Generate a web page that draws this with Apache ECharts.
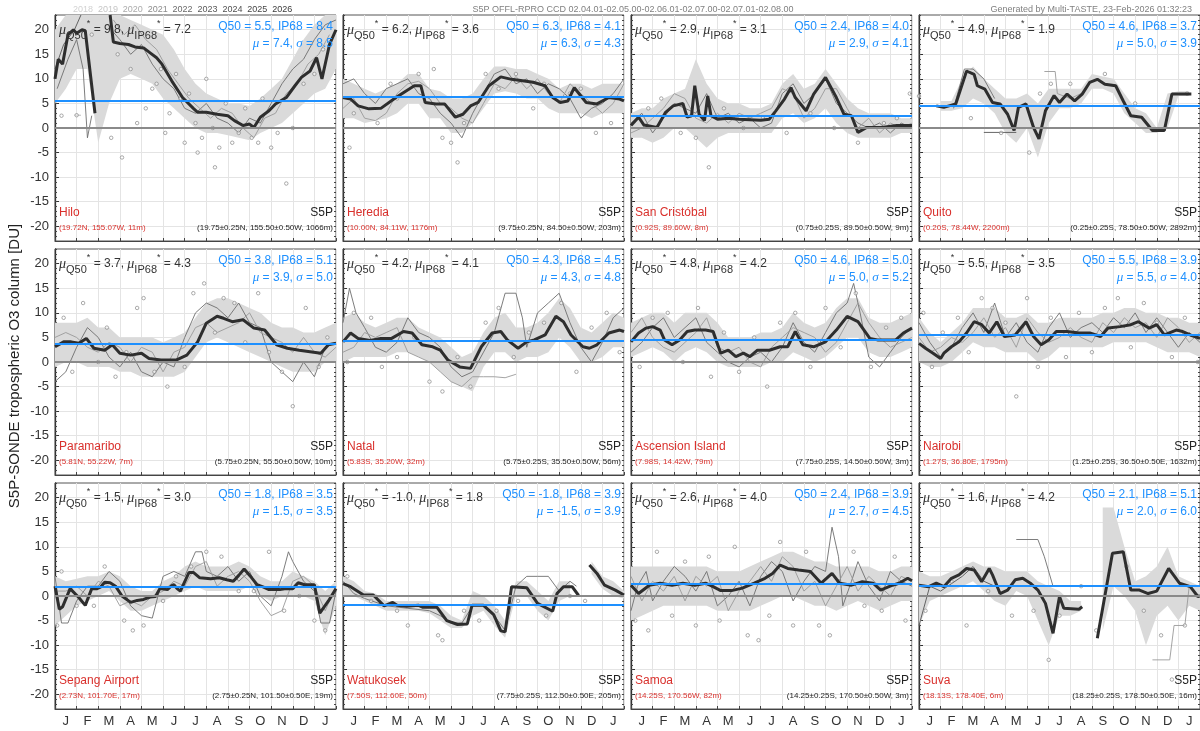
<!DOCTYPE html>
<html>
<head>
<meta charset="utf-8">
<script src="https://cdn.jsdelivr.net/npm/echarts@6/dist/echarts.min.js"></script>
<style>
html,body{margin:0;padding:0;background:#fff}
#c{width:1200px;height:731px}
</style>
</head>
<body>
<div id="c"></div>
<script>
// ---- station metadata ----
const stations = ['Hilo','Heredia','San Cristóbal','Quito','Paramaribo','Natal','Ascension Island','Nairobi','Sepang Airport','Watukosek','Samoa','Suva'];
const sondeCoords = ['(19.72N, 155.07W, 11m)','(10.00N, 84.11W, 1176m)','(0.92S, 89.60W, 8m)','(0.20S, 78.44W, 2200m)','(5.81N, 55.22W, 7m)','(5.83S, 35.20W, 32m)','(7.98S, 14.42W, 79m)','(1.27S, 36.80E, 1795m)','(2.73N, 101.70E, 17m)','(7.50S, 112.60E, 50m)','(14.25S, 170.56W, 82m)','(18.13S, 178.40E, 6m)'];
const pixelCoords = ['(19.75±0.25N, 155.50±0.50W, 1066m)','(9.75±0.25N, 84.50±0.50W, 203m)','(0.75±0.25S, 89.50±0.50W, 9m)','(0.25±0.25S, 78.50±0.50W, 2892m)','(5.75±0.25N, 55.50±0.50W, 10m)','(5.75±0.25S, 35.50±0.50W, 56m)','(7.75±0.25S, 14.50±0.50W, 3m)','(1.25±0.25S, 36.50±0.50E, 1632m)','(2.75±0.25N, 101.50±0.50E, 19m)','(7.75±0.25S, 112.50±0.50E, 205m)','(14.25±0.25S, 170.50±0.50W, 3m)','(18.25±0.25S, 178.50±0.50E, 16m)'];

// ---- summary statistics per station ----
const muQ50 = ['9.8','6.2','2.9','4.9','3.7','4.2','4.8','5.5','1.5','-1.0','2.6','1.6'];
const muIP68 = ['7.2','3.6','3.1','1.9','4.3','4.1','4.2','3.5','3.0','1.8','4.0','4.2'];
const q50 = [5.5,6.3,2.4,4.6,3.8,4.3,4.6,5.5,1.8,-1.8,2.4,2.1];
const ip68 = ['8.4','4.1','4.0','3.7','5.1','4.5','5.0','3.9','3.5','3.9','3.9','5.1'];
const meanVal = ['7.4','6.3','2.9','5.0','3.9','4.3','5.0','5.5','1.5','-1.5','2.7','2.0'];
const sigmaVal = ['8.5','4.3','4.1','3.9','5.0','4.8','5.2','4.0','3.5','3.9','4.5','6.0'];

// ---- axis labels ----
const monthLetters = ['J','F','M','A','M','J','J','A','S','O','N','D','J'];
const monthLabelPos = [0.5,1.5,2.5,3.5,4.5,5.5,6.5,7.5,8.5,9.5,10.5,11.5,12.5];
const yTickLabels = [-20,-15,-10,-5,0,5,10,15,20];
const yMinorTicks = [-23,-22,-21,-20,-19,-18,-17,-16,-15,-14,-13,-12,-11,-10,-9,-8,-7,-6,-5,-4,-3,-2,-1,0,1,2,3,4,5,6,7,8,9,10,11,12,13,14,15,16,17,18,19,20,21,22,23];
const years = ['2018','2019','2020','2021','2022','2023','2024','2025','2026'];
const yearColors = ['#d2d2d2','#c6c6c6','#ababab','#8c8c8c','#6a6a6a','#5a5a5a','#505050','#454545','#3a3a3a'];

// ---- months at which the spread band is given ----
const bandMonths = [0,0.5,1,1.5,2,2.5,3,3.5,4,4.5,5,5.5,6,6.5,7,7.5,8,8.5,9,9.5,10,10.5,11,11.5,12,12.5,13];

// ---- median (thick) curves: [month, DU] ----
const medHilo = [[0,10],[0.15,14],[0.35,13],[0.6,19],[0.85,20],[1.0,19.3],[1.25,20],[1.4,19.8],[1.85,3],[2.2,null],[2.55,23],[2.7,17.5],[3.0,17.2],[3.4,17],[3.7,16.5],[4.1,16.3],[4.4,15.3],[4.7,14.3],[4.95,13],[5.4,9.6],[5.9,6.2],[6.4,4],[6.6,3.2],[7.0,3.2],[7.5,2.8],[8.0,2.5],[8.3,1.5],[8.7,0.5],[9.0,0.8],[9.2,0.1],[9.5,2.2],[9.9,3.5],[10.2,4.9],[10.7,6.2],[11.1,8.6],[11.4,10.3],[11.8,11.6],[12.1,14.3],[12.35,10],[12.7,17],[13,20]];
const medHeredia = [[0,6.2],[0.35,5.9],[0.7,4.5],[1.2,3.9],[1.75,4],[2.45,6.2],[2.9,7.5],[3.3,8.6],[3.6,8.6],[3.8,5.2],[4.3,4.9],[4.7,4.9],[5.2,2.2],[5.55,2.8],[5.9,4.5],[6.25,5.2],[6.75,8.6],[7.3,10.4],[7.8,9.9],[8.3,9.6],[8.8,9.3],[9.35,8.6],[9.7,6.2],[10.05,5.2],[10.4,5.5],[10.7,8.2],[11.25,5.2],[11.75,4.9],[12.3,6.2],[12.8,5.9],[13,5.5]];
const medSanCristobal = [[0,0.5],[0.35,2.2],[0.6,0.6],[1.2,0.1],[1.6,3.2],[1.95,4.5],[2.4,5],[2.6,2.2],[2.8,2.5],[2.95,8.6],[3.15,2.8],[3.4,1.5],[3.55,6.5],[3.7,2.5],[4.0,1.8],[4.5,2.0],[5.0,1.8],[5.5,1.7],[6.0,1.6],[6.4,1.8],[6.7,3.5],[7.1,5.9],[7.4,8.2],[7.6,6.2],[8.1,3.5],[8.45,6.9],[9.0,10.3],[9.5,6.2],[9.85,2.8],[10.2,2.5],[10.5,-0.9],[10.9,0.1],[11.6,0.1],[12.3,0.5],[13,0.5]];
const medQuito = [[0.8,4.5],[1.15,4.2],[1.7,4.9],[2.2,11.6],[2.55,10.9],[2.7,8.6],[3.05,7.9],[3.4,5.2],[3.75,4.9],[4.1,2.8],[4.4,-0.5],[4.6,4.2],[4.95,4.9],[5.3,0.1],[5.55,-2.2],[5.85,3.5],[6.25,6.6],[6.5,5.2],[6.85,6.9],[7.2,5.5],[7.55,6.9],[7.9,9.3],[8.25,9.9],[8.6,8.9],[9.1,8.6],[9.45,5.5],[9.8,2.5],[10.3,2.2],[10.8,-0.5],[11.35,-0.5],[11.7,6.9],[12.6,6.9]];
const medParamaribo = [[0,3.1],[0.4,4.1],[0.75,4.1],[1.1,3.8],[1.45,4.8],[1.8,2.8],[2.3,2.4],[2.65,3.5],[3.0,1.8],[3.5,1.4],[4.0,1.8],[4.35,0.7],[4.9,0.4],[5.6,0.4],[6.1,1.4],[6.6,4.1],[7.0,7.9],[7.5,9.3],[7.8,8.9],[8.2,8.2],[8.7,8.6],[9.2,6.9],[9.7,6.5],[10.25,3.5],[10.75,2.8],[11.3,2.4],[11.8,2.1],[12.3,1.8],[12.65,3.5],[13,3.8]];
const medNatal = [[0,4.1],[0.35,5.9],[0.7,4.8],[1.25,4.4],[1.75,4.8],[2.25,4.8],[2.8,6.2],[3.2,5.9],[3.65,3.5],[4.15,3.1],[4.5,2.4],[4.85,0.4],[5.4,-1.0],[5.9,-1.3],[6.4,3.1],[6.9,5.9],[7.3,6.2],[7.6,4.5],[8.1,2.8],[8.5,4.1],[8.85,4.5],[9.35,5.5],[9.85,9.3],[10.2,8.2],[10.55,5.5],[11.1,3.1],[11.4,2.8],[11.75,3.5],[12.3,5.9],[12.8,6.5],[13,6.2]];
const medAscension = [[0,4.1],[0.35,5.9],[0.7,6.9],[1.0,7.2],[1.35,6.5],[1.55,4.5],[1.9,3.5],[2.25,4.5],[2.6,6.2],[2.95,6.5],[3.45,6.5],[3.8,6.2],[4.15,1.8],[4.5,2.4],[4.85,1.1],[5.2,1.8],[5.5,1.1],[5.85,2.4],[6.4,2.4],[6.9,3.1],[7.25,3.1],[7.6,6.2],[7.95,3.5],[8.45,3.1],[9.0,4.1],[9.5,6.5],[10.0,9.3],[10.5,8.2],[11.05,4.8],[11.4,4.5],[11.9,4.5],[12.25,4.5],[12.6,5.9],[13,6.9]];
const medNairobi = [[0,3.8],[0.3,2.8],[0.65,1.8],[1.0,0.7],[1.15,1.8],[1.5,3.1],[1.85,4.1],[2.2,5.9],[2.55,8.2],[2.9,7.6],[3.25,5.9],[3.6,8.2],[3.95,5.2],[4.45,5.5],[4.95,8.2],[5.3,5.2],[5.65,3.5],[6.0,4.5],[6.35,6.2],[6.85,6.2],[7.4,5.9],[7.9,5.9],[8.4,5.2],[8.75,6.9],[9.3,7.2],[9.8,7.6],[10.15,8.2],[10.65,6.9],[11.0,7.6],[11.35,5.5],[11.9,6.5],[12.2,6.2],[12.55,5.5],[13,4.8]];
const medSepang = [[0,2.0],[0.2,-2.7],[0.35,-2.2],[0.7,1.5],[1.1,-0.3],[1.4,-1.9],[1.7,1.5],[1.95,1.5],[2.1,1.8],[2.3,2.8],[2.55,2.7],[2.8,2.0],[3.1,0],[3.5,-1.3],[3.8,-0.9],[4.1,-0.7],[4.4,-0.2],[4.65,-0.1],[4.85,1.5],[5.2,1.3],[5.4,2.1],[5.5,2.3],[5.65,1.5],[5.8,1.0],[6.2,4.8],[6.4,4.8],[6.7,3.7],[7.2,3.5],[7.6,3.7],[7.95,3.3],[8.25,3.0],[8.5,4.2],[8.75,5.5],[9.1,3.7],[9.35,2.3],[9.65,1.8],[9.9,1.3],[10.4,1.3],[10.7,1.5],[11.0,1.5],[11.25,2.7],[11.55,2.3],[12.0,2.3],[12.25,-3.5],[12.65,-1.0],[13,1.5]];
const medWatukosek = [[0,2.5],[0.35,1.9],[0.95,0.2],[1.4,0.2],[1.9,-2.0],[2.3,-1.3],[2.5,-1.9],[2.95,-2.1],[3.5,-1.9],[3.7,-2.3],[4.35,-2.3],[4.8,-5.0],[5.3,-5.8],[5.75,-5.7],[5.97,-1.9],[6.5,-1.9],[6.97,-3.8],[7.3,-7.1],[7.5,-7.3],[7.8,1.9],[8.5,1.7],[9.0,-1.5],[9.7,-3.1],[9.9,0.5],[10.2,1.9],[10.6,1.9],[10.9,0.1],[11.1,null],[11.4,6.3],[11.75,4.6],[12.1,2.2],[12.6,1.2],[13,0.2]];
const medSamoa = [[0,2.2],[0.35,0.5],[0.85,2.2],[1.35,2.6],[1.9,2.2],[2.4,2.6],[2.95,2.2],[3.45,2.6],[3.8,1.9],[4.15,1.1],[4.65,1.1],[5.15,1.6],[5.7,2.6],[6.2,3.6],[6.55,4.6],[6.9,6.3],[7.25,5.6],[7.75,5.3],[8.3,5.0],[8.8,2.6],[9.3,4.6],[9.65,2.6],[10.2,2.2],[10.7,2.9],[11.2,2.6],[11.55,1.2],[12.1,2.2],[12.4,2.6],[12.8,3.6],[13,3.1]];
const medSuva = [[0,2.2],[0.45,1.9],[0.8,2.6],[1.15,1.9],[1.5,3.6],[1.85,4.3],[2.2,5.6],[2.55,5.3],[2.9,2.9],[3.25,5.6],[3.4,4.3],[3.75,0.5],[4.1,1.2],[4.45,3.3],[4.8,3.6],[5.15,2.6],[5.5,1.2],[5.85,-1.5],[6.2,-7.6],[6.5,-0.1],[6.7,-2.5],[7.4,-2.7],[7.55,-2.2],[7.9,null],[8.25,-8.6],[8.95,8.7],[9.45,9.0],[9.8,1.2],[10.2,1.2],[10.6,0.5],[11.0,1.0],[11.55,5.6],[12.05,2.6],[12.55,1.9],[12.9,-0.1],[13,0]];

// ---- spread band (lower / upper) at bandMonths ----
const loHilo = [5,8,12,12,-3,5,10,11,10,9,6,4,2,0,-1,-1,-1.5,-2,-2.5,-1,0,1,3,5,7,8,12];
const hiHilo = [20,23,23,23,23,23,23,22,21,20,19,16,12,9,7,6,5,5,4.5,6,8,10,14,18,21,23,23];
const loHeredia = [2,2,1,1.5,2,3,5,5,2,2,-1,-1,1,4,7,7.5,7,6,6,4,3,3,3,2,3,3,3];
const hiHeredia = [10,9,8,7,8,9,11,11,8,7.5,6,6,7,10,12.5,12.5,12,12,11,10,8,9,9,8,9,9,9];
const loSanCristobal = [-2,-2,-3,-2,0,0,-2,-4,-2,-1,-1,-1,-1,-1,2,3,1,2,4,1,-1,-2,-2,-2,-2,-1,-1];
const hiSanCristobal = [3,4,4,6,7,8,14,9,6,5,5,4,4,5,9,11,8,9,12,9,6,4,3,3,3,2,2];
const loQuito = [null,null,3.5,3.5,4,6,5,3,-1,-3,0,-6,1,4,4,5,8,8,7,3,1,-1,-1,0,6.5,6.5,null];
const hiQuito = [null,null,5.5,5.5,10,12.5,10,8,6,6,7,5,8,8,8,8,11,10.5,10,7,4,3,0,7,7.5,7.5,null];
const loParamaribo = [-1,0,0,-1,-1,-1,-2,-2,-3,-3,-3,-3,-2,1,4,5,4,3,2,1,0,-1,-2,-2,-2,0,0];
const hiParamaribo = [8,8,8,9,7,7,5,5,5,5,4,5,6,9,12,13,13,12,11,10,8,7,7,6,6,7,8];
const loNatal = [0,1,1,1,1,2,2,1,0,-2,-4,-5,-6,-1,2,2,0,1,1,2,5,3,0,0,1,3,3];
const hiNatal = [9,10,8,7,8,9,9,7,6,5,3,1,2,6,9,10,7,7,8,10,13,11,7,6,8,10,9];
const loAscension = [1,2,3,2,0,2,3,2,0,-1,-1,-1,-1,0,0,2,1,0,1,3,5,5,2,1,1,2,3];
const hiAscension = [8,9,10,10,8,10,10,10,8,5,5,5,6,6,7,10,8,7,8,11,13,13,9,8,8,9,10];
const loNairobi = [0,-1,-1,0,2,4,3,3,2,2,2,0,1,3,3,3,3,3,4,4,4,4,3,2,2,2,1];
const hiNairobi = [9,6,4,6,8,11,11,11,9,9,10,8,8,9,9,9,9,10,10,11,11,10,10,9,9,8,8];
const loSepang = [-6,-4,-2,-1,0,1,-1,-3,-3,-2,-1,0,1,2,1,1,1,1,2,0,-1,0,0,0,-1,-8,-2];
const hiSepang = [4,3,3.5,4,4,5,4,2,1,1,3,4,6,7,6,6,6,7,6,4,3,3,5,4,3,1,3];
const loWatukosek = [0,0,-1,-2,-3,-3,-3,-3,-3.5,-5,-6.5,-6.5,-4,-3,-6,-8.5,0,0,-3,-5,-1,0,null,4.5,1.5,0,-0.5];
const hiWatukosek = [4,3,1,0.5,-1,-1,-1,-1,-1,-2,-4,-5,1,0,-2,-5,3,3,1,-1,3,3,null,7,4,3,1];
const loSamoa = [-5,-4,-3,-2,-2,-2,-2,-2,-3,-3,-3,-3,-2,-1,0,0,-1,-2,-2,-3,-2,-1,-2,-3,-2,-1,-1];
const hiSamoa = [6,6,6,6,6,6,6,6,5,5,5,6,7,8,9,9,8,7,7,6,6,6,6,5,5,6,6];
const loSuva = [-6,-1,0,1,2,3,1,-1,-2,1,0,-5,-10,-4,-4,-3,null,-7,2,0,-3,-10,-4,-2,-5,-2,-3];
const hiSuva = [5,4,4,5,6,7,6,6,5,5,5,3,2,1,-1,-1,null,18,18,10,3,4,6,10,4,3,2];

// ---- individual year curves (thin) ----
const yrsHilo = [
  [[0.1,8],[0.6,14],[1.0,18],[1.3,12],[1.5,-2],[1.7,2.5],[2.2,null],[2.6,20],[3.0,18],[3.5,15],[4.0,17],[4.5,13],[5.0,10],[5.5,8],[6.0,4],[6.5,3],[7.0,5],[7.5,2],[8.0,1],[8.5,-1],[9.0,2],[9.5,1],[10.0,5],[10.5,9],[11.0,12],[11.5,14],[12.0,18],[12.5,21],[13,22]],
  [[2.7,22],[3.2,19],[3.7,21],[4.2,18],[4.7,16],[5.2,12],[5.7,9],[6.2,6],[6.7,4],[7.2,2],[7.7,4],[8.2,3],[8.7,0],[9.2,-2],[9.7,2],[10.2,3],[10.7,7],[11.2,9],[11.7,13],[12.2,15],[12.7,19]],
  [[0,12],[0.4,17],[0.9,20],[1.2,23]],
  [[0.9,2.6],[1.2,2.6]]
];
const yrsHeredia = [
  [[0,9],[0.5,10],[1,7],[1.5,5],[2,8],[2.5,9],[3,10],[3.5,7],[4,6],[4.5,3],[5,1],[5.5,-2],[6,3],[6.5,7],[7,11],[7.5,12],[8,9],[8.5,10],[9,7],[9.5,9],[10,8],[10.5,6],[11,2],[11.5,4],[12,5],[12.5,7],[13,10]],
  [[0,4],[0.5,6],[1,2],[1.5,1.5],[2,3],[2.5,7],[3,9],[3.5,9.5],[4,8],[4.5,5],[5,4],[5.5,2],[6,1],[6.5,5],[7,9],[7.5,8],[8,10.5],[8.5,8],[9,10],[9.5,7],[10,5],[10.5,9],[11,7],[11.5,5],[12,3],[12.5,5],[13,9]]
];
const yrsSanCristobal = [
  [[0,1],[0.5,3],[1,-1],[1.5,2],[2,5],[2.5,4],[3,3],[3.5,7],[4,2],[4.5,3],[5,1],[5.5,2],[6,0],[6.5,1],[7,7],[7.5,9],[8,5],[8.5,7],[9,10],[9.5,5],[10,3],[10.5,1],[11,0],[11.5,1],[12,-1],[12.5,1],[13,0]],
  [[0,-1],[0.5,0],[1,2],[1.5,4],[2,7],[2.5,6],[3,2],[3.5,1],[4,3],[4.5,1],[5,3],[5.5,2],[6,3],[6.5,4],[7,8],[7.5,7],[8,2],[8.5,4],[9,8],[9.5,8],[10,4],[10.5,0],[11,2],[11.5,-1],[12,1],[12.5,0],[13,1]]
];
const yrsQuito = [
  [[1.6,4],[2.1,12],[2.5,12],[3,10],[3.5,6]],
  [[5.8,11.5],[6.3,11.5],[6.4,7],[7,6],[7.5,7]],
  [[3.0,-0.9],[4.5,-0.9]]
];
const yrsParamaribo = [
  [[0,-4],[0.5,-2],[1,3],[1.5,7],[2,5],[2.5,1],[3,-1],[3.5,2],[4,-2],[4.5,-3],[5,0],[5.5,-1],[6,5],[6.5,10],[7,12],[7.5,11],[8,9],[8.5,12],[9,8],[9.5,7],[10,0],[10.5,-2],[11,-4],[11.5,0],[12,-3],[12.5,3],[13,4]],
  [[0,5],[0.5,6],[1,5],[1.5,3],[2,2],[2.5,4],[3,3],[3.5,0],[4,3],[4.5,2],[5,-2],[5.5,2],[6,3],[6.5,7],[7,8],[7.5,6],[8,7],[8.5,8],[9,10],[9.5,6],[10,5],[10.5,4],[11,2],[11.5,5],[12,2],[12.5,1],[13,3]]
];
const yrsNatal = [
  [[0,8],[0.3,15],[0.6,10],[1,7],[1.5,3],[2,2],[2.5,4],[3,9],[3.5,6],[4,5],[4.5,3],[5,-1],[5.5,-3],[6,-2],[6.5,2],[7,6],[7.5,14],[8,14],[8.3,9],[8.5,3],[9,10],[9.5,12],[10,14],[10.5,8],[11,3],[11.5,0],[12,4],[12.5,9],[13,11]],
  [[0,2],[0.5,3],[1,6],[1.5,5],[2,6],[2.5,7],[3,2],[3.5,1],[4,0],[4.5,-2],[5,-4],[5.5,-5],[6,-3],[6.5,-3],[7,-3],[7.5,-3.2],[8,-2.5]]
];
const yrsAscension = [
  [[0,2],[0.5,4],[1,7],[1.5,9],[2,5],[2.5,7],[3,9],[3.5,4],[4,2],[4.5,0],[5,-1],[5.5,1],[6,2],[6.5,0],[7,3],[7.5,8],[8,4],[8.5,2],[9,6],[9.5,10],[10,12],[10.3,16],[10.6,10],[11,1],[11.5,-1],[12,2],[12.5,5],[13,7]],
  [[0,6],[0.5,9],[1,5],[1.5,3],[2,2],[2.5,4],[3,6],[3.5,9],[4,3],[4.5,2],[5,3],[5.5,0],[6,-1],[6.5,3],[7,5],[7.5,7],[8,6],[8.5,5],[9,2],[9.5,4],[10,8],[10.5,12],[11,8],[11.5,5],[12,3],[12.5,4],[13,5]]
];
const yrsNairobi = [
  [[0,8],[0.5,4],[1,1],[1.5,3],[2,7],[2.5,10],[3,6],[3.5,12],[4,5],[4.5,8],[5,4],[5.5,2],[6,7],[6.5,10],[7,5],[7.5,7],[8,8],[8.5,6],[9,9],[9.5,7],[10,10],[10.5,6],[11,9],[11.5,6],[12,3],[12.5,6],[13,4]],
  [[0,5],[0.5,2],[1,3],[1.5,5],[2,4],[2.5,6],[3,9],[3.5,5],[4,7],[4.5,3],[5,9],[5.5,6],[6,4],[6.5,5],[7,7],[7.5,5],[8,4],[8.5,8],[9,6],[9.5,9],[10,7],[10.5,8],[11,5],[11.5,9],[12,7],[12.5,4],[13,6]]
];
const yrsSepang = [
  [[0,4],[0.3,-5.5],[0.6,-5.5],[1,-1],[1.5,2],[2,2],[2.5,5],[3,3],[3.5,-2],[4,-4],[4.5,-4.5],[5,4],[5.5,5],[6,4],[6.5,9],[6.8,9],[7,5],[7.5,4],[8,6],[8.5,3],[9,5],[9.5,0],[10,-2],[10.5,4],[10.8,9],[11,7],[11.5,3],[12,1],[12.3,-5.5],[12.7,-5.5],[13,1]],
  [[0,1],[0.5,1],[1,2],[1.5,0],[2,3],[2.5,2],[3,-2],[3.5,-1],[4,-2],[4.5,0],[5,1],[5.5,3],[6,2],[6.5,6],[7,7],[7.5,2],[8,4],[8.5,5],[9,3],[9.5,-1],[10,-4],[10.5,-3],[11,3],[11.5,4],[12,2],[12.5,-3],[13,2]]
];
const yrsWatukosek = [
  [[0,3],[0.5,0.5],[1,-0.5],[2,-2],[3,-2.5],[4,-3],[4.5,-4],[5,-5.5],[5.5,-5.5],[6,-2],[6.5,-2],[7,-4],[7.5,-7],[8,2],[8.5,4],[9,4],[9.5,4],[10,1],[10.5,3],[10.8,2]]
];
const yrsSamoa = [
  [[0,-3],[0.3,2],[0.7,5],[1,-1],[1.5,3],[2,6],[2.5,4],[3,1],[3.5,5],[4,-2],[4.5,0],[5,3],[5.5,-2],[6,4],[6.5,7],[7,5],[7.5,-1],[8,3],[8.5,6],[9,5],[9.3,14],[9.6,8],[9.8,-2],[10.2,3],[10.5,7],[11,2],[11.5,-1],[12,5],[12.5,3],[13,2]],
  [[0,4],[0.5,-1],[1,3],[1.5,1],[2,4],[2.5,-1],[3,4],[3.5,2],[4,4],[4.5,-3],[5,1],[5.5,3],[6,6],[6.5,3],[7,8],[7.5,6],[8,1],[8.5,3],[9,-2],[9.5,2],[10,6],[10.5,1],[11,4],[11.5,2],[12,0],[12.5,4],[13,3]]
];
const yrsSuva = [
  [[4.5,11.5],[5.5,11.5],[5.8,8],[6.2,2]],
  [[10.8,-13],[11.6,-13],[11.8,-6],[12.3,-6],[12.5,2],[13,2]],
  [[0,-6],[0.5,2],[1,1],[1.5,2.5],[2,4],[2.5,6],[3,3],[3.5,2]]
];

// ---- individual co-locations (dots) ----
const dotsHilo = [[0.3,2.5],[1,2.6],[2.6,-2],[3.1,-6],[3.8,1],[4.2,4],[4.5,8],[4.9,12],[5.1,-1],[5.3,3],[5.6,11],[5.8,6],[6.0,-3],[6.2,7],[6.5,1],[6.8,-2],[7.0,10],[7.3,0],[7.6,-4],[7.9,5],[8.2,-3],[8.5,-1],[8.8,4],[9.1,-2],[9.4,-3],[9.6,6],[10,-4],[10.3,-1],[10.7,-11.3],[11,0],[11.5,9],[12,11],[12.4,16],[1.7,19],[2.9,15],[3.5,12],[4.7,9],[6.6,-5],[7.4,-8]];
const dotsHeredia = [[0.3,-4],[0.5,3],[1.6,1],[2.2,9],[2.5,6],[3.5,11],[4.2,12],[4.6,-2],[5.0,-3],[5.3,-7],[5.6,1],[6.6,11],[7.2,8],[8.0,11],[8.8,4],[9.3,9],[10.5,7],[11.0,8],[11.7,-1],[12.4,1]];
const dotsSanCristobal = [[0.8,4],[1.4,6],[2.3,-1],[3.0,-2],[3.6,-8],[4.3,4],[5.2,0],[6.1,2],[7.2,-1],[8.3,3],[9.4,0],[10.5,-3],[11.7,1],[12.3,2],[12.9,7]];
const dotsQuito = [[0.0,6.5],[2.4,2],[3.8,-1],[5.1,-5],[5.6,7],[6.1,9],[7.0,9],[8.6,11],[10.0,5],[12.4,7]];
const dotsParamaribo = [[0.4,9],[0.8,-2],[1.3,12],[2.0,0],[2.4,7],[2.8,-3],[3.3,2],[3.8,11],[4.1,13],[4.6,-2],[5.2,-5],[6.0,-1],[6.4,14],[6.9,16],[7.4,6],[7.8,13],[8.3,12],[8.8,4],[9.4,14],[9.9,2],[10.5,-2],[11.0,-9],[11.6,11],[12.2,-1],[12.6,5]];
const dotsNatal = [[0.2,0],[0.5,10],[1.3,9],[1.8,-1],[2.5,1],[3.3,5],[4.0,-4],[4.6,-6],[5.3,1],[5.9,-5],[6.6,8],[7.2,11],[7.9,1],[8.6,6],[9.3,8],[10.1,12],[10.8,-2],[11.5,7],[12.2,10],[12.8,2]];
const dotsAscension = [[0.4,-1],[1.0,9],[1.7,10],[2.4,0],[3.1,11],[3.7,-3],[4.3,6],[5.0,-2],[5.7,5],[6.3,-5],[6.9,8],[7.6,10],[8.3,-1],[9.0,11],[9.7,3],[10.4,14],[11.1,-1],[11.8,7],[12.5,9]];
const dotsNairobi = [[0.2,10],[0.6,-1],[1.1,6],[1.8,9],[2.3,2],[2.9,13],[3.4,11],[4.0,8],[4.5,-7],[5.0,13],[5.5,-1],[6.1,9],[6.8,1],[7.4,10],[8.0,2],[8.6,11],[9.2,13],[9.8,3],[10.4,12],[11.0,8],[11.7,1],[12.3,9],[12.9,0]];
const dotsSepang = [[0.1,-6],[0.3,5],[1.0,-2],[1.8,-2],[2.3,6],[3.2,-5],[3.6,-7],[4.1,-6],[5.0,-1],[5.6,4],[6.3,6],[7.0,9],[7.7,8],[8.5,1],[9.2,1],[9.9,9],[10.6,-3],[11.3,0],[12.0,-5],[12.5,-7]];
const dotsWatukosek = [[0.2,4],[1.3,-1],[2.5,-3],[3.0,-6],[4.4,-8],[4.6,-9],[5.6,-3],[6.3,-5],[7.1,-3],[8.1,-1],[9.4,-4],[10.5,0],[11.2,-1]];
const dotsSamoa = [[0.2,-5],[0.8,-7],[1.2,9],[1.9,-4],[2.5,7],[3.0,-6],[3.6,8],[4.1,-5],[4.8,10],[5.4,-8],[5.9,-9],[6.4,-4],[6.9,11],[7.5,-6],[8.1,9],[8.7,-6],[9.2,-8],[9.6,3],[10.3,9],[10.8,-2],[11.6,-3],[12.2,8],[12.7,-5]];
const dotsSuva = [[0.3,-3],[1.5,3],[2.2,-6],[3.2,1],[4.3,-4],[5.3,-3],[6.0,-13],[6.5,-4],[7.5,2],[8.2,-7],[9.6,6],[10.4,-3],[11.2,-8],[11.7,-17],[12.3,-6]];

// ---- assemble per-panel collections ----
const medians = [medHilo,medHeredia,medSanCristobal,medQuito,medParamaribo,medNatal,medAscension,medNairobi,medSepang,medWatukosek,medSamoa,medSuva];
const bandLo = [loHilo,loHeredia,loSanCristobal,loQuito,loParamaribo,loNatal,loAscension,loNairobi,loSepang,loWatukosek,loSamoa,loSuva];
const bandHi = [hiHilo,hiHeredia,hiSanCristobal,hiQuito,hiParamaribo,hiNatal,hiAscension,hiNairobi,hiSepang,hiWatukosek,hiSamoa,hiSuva];
const yearCurves = [yrsHilo,yrsHeredia,yrsSanCristobal,yrsQuito,yrsParamaribo,yrsNatal,yrsAscension,yrsNairobi,yrsSepang,yrsWatukosek,yrsSamoa,yrsSuva];
const dots = [dotsHilo,dotsHeredia,dotsSanCristobal,dotsQuito,dotsParamaribo,dotsNatal,dotsAscension,dotsNairobi,dotsSepang,dotsWatukosek,dotsSamoa,dotsSuva];

// ---- layout ----
const colLeft = [55, 343, 631, 919];
const rowTop = [15, 249, 483];
const PW = 281, PH = 226;
const FONT = '"Liberation Sans", Arial, sans-serif';
const BLUE = '#1e90ff';
const RED = '#d9302c';
const thinColors = ['#6e6e6e','#9a9a9a','#555555','#b0b0b0'];

const grids = [], xAxes = [], yAxes = [], series = [], graphics = [];

for (let i = 0; i < 12; i++) {
  const r = Math.floor(i / 4), c = i % 4;
  const L = colLeft[c], T = rowTop[r];
  grids.push({left: L, top: T, width: PW, height: PH, show: true, borderColor: '#555', borderWidth: 1, backgroundColor: '#fff'});
  xAxes.push({
    type: 'value', gridIndex: i, min: 0, max: 13, interval: 1,
    axisLine: {show: true, onZero: false, lineStyle: {color: '#444', width: 1}},
    axisTick: {show: true, inside: true, length: 3, lineStyle: {color: '#444'}},
    axisLabel: {show: r === 2, customValues: monthLabelPos, formatter: v => monthLetters[Math.floor(v)], fontSize: 13, color: '#333', margin: 6, fontFamily: FONT},
    splitLine: {show: true, lineStyle: {color: '#e4e4e4', width: 1}}
  });
  yAxes.push({
    type: 'value', gridIndex: i, min: -23, max: 23,
    axisLine: {show: true, onZero: false, lineStyle: {color: '#333', width: 1.3}},
    axisTick: {show: true, inside: true, length: 4, customValues: yTickLabels, lineStyle: {color: '#333'}},
    axisLabel: {show: c === 0, customValues: yTickLabels, fontSize: 13, color: '#333', margin: 6, fontFamily: FONT},
    splitLine: {show: true, lineStyle: {color: '#e4e4e4', width: 1}}
  });
}
// minor tick marks on each panel's left and right edges
for (let i = 0; i < 12; i++) {
  yAxes.push({
    type: 'value', gridIndex: i, min: -23, max: 23, position: 'left',
    axisLine: {show: false}, axisLabel: {show: false}, splitLine: {show: false},
    axisTick: {show: true, inside: true, length: 2, customValues: yMinorTicks, lineStyle: {color: '#444'}}
  });
  yAxes.push({
    type: 'value', gridIndex: i, min: -23, max: 23, position: 'right',
    axisLine: {show: false}, axisLabel: {show: false}, splitLine: {show: false},
    axisTick: {show: true, inside: true, length: 2, customValues: yMinorTicks, lineStyle: {color: '#444'}}
  });
}

function bandRenderer(lo, hi) {
  return function (params, api) {
    const children = [];
    let seg = [];
    const flush = () => {
      if (seg.length > 1) {
        const up = seg.map(k => api.coord([bandMonths[k], hi[k]]));
        const dn = seg.slice().reverse().map(k => api.coord([bandMonths[k], lo[k]]));
        children.push({type: 'polygon', shape: {points: up.concat(dn)}, style: {fill: '#dadada'}});
      }
      seg = [];
    };
    for (let k = 0; k < bandMonths.length; k++) {
      if (lo[k] == null || hi[k] == null) flush(); else seg.push(k);
    }
    flush();
    return {type: 'group', children};
  };
}

for (let i = 0; i < 12; i++) {
  series.push({
    type: 'custom', xAxisIndex: i, yAxisIndex: i, z: 1, silent: true, clip: true,
    renderItem: bandRenderer(bandLo[i], bandHi[i]),
    data: [[0, 0]]
  });
  yearCurves[i].forEach((curve, j) => {
    series.push({
      type: 'line', xAxisIndex: i, yAxisIndex: i, z: 2, silent: true, showSymbol: false,
      connectNulls: false, clip: true, data: curve,
      lineStyle: {color: thinColors[j % thinColors.length], width: 0.9}
    });
  });
  series.push({
    type: 'scatter', xAxisIndex: i, yAxisIndex: i, z: 2, silent: true, data: dots[i],
    symbol: 'circle', symbolSize: 3.5,
    itemStyle: {color: 'rgba(255,255,255,0.6)', borderColor: '#8a8a8a', borderWidth: 0.9}
  });
  series.push({
    type: 'line', xAxisIndex: i, yAxisIndex: i, z: 3, silent: true, data: [],
    markLine: {
      silent: true, symbol: 'none', label: {show: false}, animation: false,
      data: [
        {yAxis: 0, lineStyle: {color: '#8a8a8a', width: 2, type: 'solid'}},
        {yAxis: q50[i], lineStyle: {color: BLUE, width: 2, type: 'solid'}}
      ]
    }
  });
  series.push({
    type: 'line', xAxisIndex: i, yAxisIndex: i, z: 4, silent: true, showSymbol: false,
    connectNulls: false, clip: true, data: medians[i],
    lineStyle: {color: '#2e2e2e', width: 3}
  });

  // panel annotations
  const r = Math.floor(i / 4), c = i % 4;
  const L = colLeft[c], T = rowTop[r], R = L + PW - 3;
  graphics.push({
    type: 'text', x: L + 4, y: T + 4, z: 10,
    style: {
      text: '{m|μ}{s|Q50}{p|*} = ' + muQ50[i] + ', {m|μ}{s|IP68}{p|*} = ' + muIP68[i],
      fill: '#333', font: '12px ' + FONT, verticalAlign: 'top',
      rich: {
        m: {fontFamily: '"Liberation Serif", serif', fontStyle: 'italic', fontSize: 14, fill: '#333', lineHeight: 22, verticalAlign: 'middle'},
        s: {fontSize: 11, fill: '#333', fontFamily: FONT, lineHeight: 22, verticalAlign: 'bottom'},
        p: {fontSize: 9, fill: '#333', fontFamily: FONT, lineHeight: 22, verticalAlign: 'top'}
      }
    }
  });
  graphics.push({
    type: 'text', x: R, y: T + 12, z: 10,
    style: {text: 'Q50 = ' + q50[i].toFixed(1) + ', IP68 = ' + ip68[i], fill: BLUE, font: '12px ' + FONT, align: 'right', verticalAlign: 'middle'}
  });
  graphics.push({
    type: 'text', x: R, y: T + 29, z: 10,
    style: {
      text: '{i|μ} = ' + meanVal[i] + ', {i|σ} = ' + sigmaVal[i], fill: BLUE, font: '12px ' + FONT, align: 'right', verticalAlign: 'middle',
      rich: {i: {fontFamily: '"Liberation Serif", serif', fontStyle: 'italic', fontSize: 13, fill: BLUE}}
    }
  });
  graphics.push({
    type: 'text', x: L + 4, y: T + 198, z: 10,
    style: {text: stations[i], fill: RED, font: '12px ' + FONT, verticalAlign: 'middle'}
  });
  graphics.push({
    type: 'text', x: L + 4, y: T + 213, z: 10,
    style: {text: sondeCoords[i], fill: RED, font: '8px ' + FONT, verticalAlign: 'middle'}
  });
  graphics.push({
    type: 'text', x: R, y: T + 198, z: 10,
    style: {text: 'S5P', fill: '#222', font: '12px ' + FONT, align: 'right', verticalAlign: 'middle'}
  });
  graphics.push({
    type: 'text', x: R, y: T + 213, z: 10,
    style: {text: pixelCoords[i], fill: '#222', font: '8px ' + FONT, align: 'right', verticalAlign: 'middle'}
  });
}

// header line and year key
graphics.push({type: 'text', x: 633, y: 10, z: 10, style: {text: 'S5P OFFL-RPRO CCD 02.04.01-02.05.00-02.06.01-02.07.00-02.07.01-02.08.00', fill: '#808080', font: '9px ' + FONT, align: 'center', verticalAlign: 'middle'}});
graphics.push({type: 'text', x: 1192, y: 10, z: 10, style: {text: 'Generated by Multi-TASTE, 23-Feb-2026 01:32:23', fill: '#808080', font: '9px ' + FONT, align: 'right', verticalAlign: 'middle'}});
years.forEach((y, k) => {
  graphics.push({type: 'text', x: 83 + 24.9 * k, y: 10, z: 10, style: {text: y, fill: yearColors[k], font: '9px ' + FONT, align: 'center', verticalAlign: 'middle'}});
});
graphics.push({type: 'text', x: 15, y: 366, rotation: Math.PI / 2, z: 10, style: {text: 'S5P-SONDE tropospheric O3 column [DU]', fill: '#222', font: '15px ' + FONT, align: 'center', verticalAlign: 'middle'}});

const chart = echarts.init(document.getElementById('c'), null, {renderer: 'canvas'});
chart.setOption({
  animation: false,
  backgroundColor: '#fff',
  grid: grids,
  xAxis: xAxes,
  yAxis: yAxes,
  series: series,
  graphic: graphics
});
</script>
</body>
</html>
